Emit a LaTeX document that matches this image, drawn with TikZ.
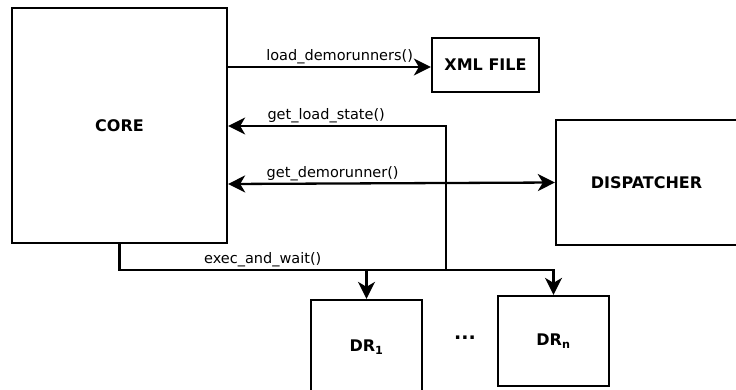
\documentclass[tikz,border=0pt]{standalone}
\usepackage{fontspec}
\setmainfont{DejaVu Sans}
\usetikzlibrary{arrows.meta}
\begin{document}
\begin{tikzpicture}[x=1pt,y=-1pt,line width=2.3pt,
  bfont/.style={font=\fontsize{16}{19}\selectfont\bfseries},
  box/.style={draw,rectangle,inner sep=0pt,bfont},
  lbl/.style={font=\fontsize{14.5}{17}\selectfont,inner sep=1.5pt,anchor=south},
  arr/.style={-{Stealth[length=17pt,width=17pt,inset=5pt]}},
  arrb/.style={{Stealth[length=17pt,width=17pt,inset=5pt]}-{Stealth[length=17pt,width=17pt,inset=5pt]}}]
\useasboundingbox (0,0) rectangle (736,389);
\node[box,minimum width=215pt,minimum height=235pt] (core) at (119.5,125.5) {CORE};
\node[box,minimum width=107pt,minimum height=54pt] (xml) at (485.5,65) {XML FILE};
\node[box,minimum width=181pt,minimum height=125pt] (disp) at (646.5,182.5) {DISPATCHER};
\node[box,minimum width=111pt,minimum height=100pt] (dr1) at (366.5,350) {};
\node[bfont,inner sep=0pt] (dr1t) at (366.5,347) {DR\textsubscript{1}};
\node[box,minimum width=111pt,minimum height=90pt] (drn) at (553.5,341) {DR\textsubscript{n}};
\node[font=\fontsize{19}{21}\selectfont\bfseries] (dots) at (465,338) {...};
\coordinate (bus) at (0,270);
\coordinate (gls) at (446,126);
\coordinate (glsb) at (446,270);
% load_demorunners
\draw[arr] (core.east |- 0,67) -- node[lbl,pos=0.55] (l1) {load\_demorunners()} (xml.west |- 0,67);
% get_load_state
\draw[arr] (glsb) -- (gls) -- node[lbl,pos=0.55] (l2) {get\_load\_state()} (core.east |- gls);
% get_demorunner
\draw[arrb] (core.east |- 0,184) -- node[lbl,pos=0.32] (l3) {get\_demorunner()} (disp.west);
% exec_and_wait
\draw[arr] (core.south) -- (core.south |- bus) -- node[lbl,pos=0.33] (l4) {exec\_and\_wait()} (drn.north |- bus) -- (drn.north);
\draw[arr] (dr1.north |- bus) -- (dr1.north);
\end{tikzpicture}
\end{document}
